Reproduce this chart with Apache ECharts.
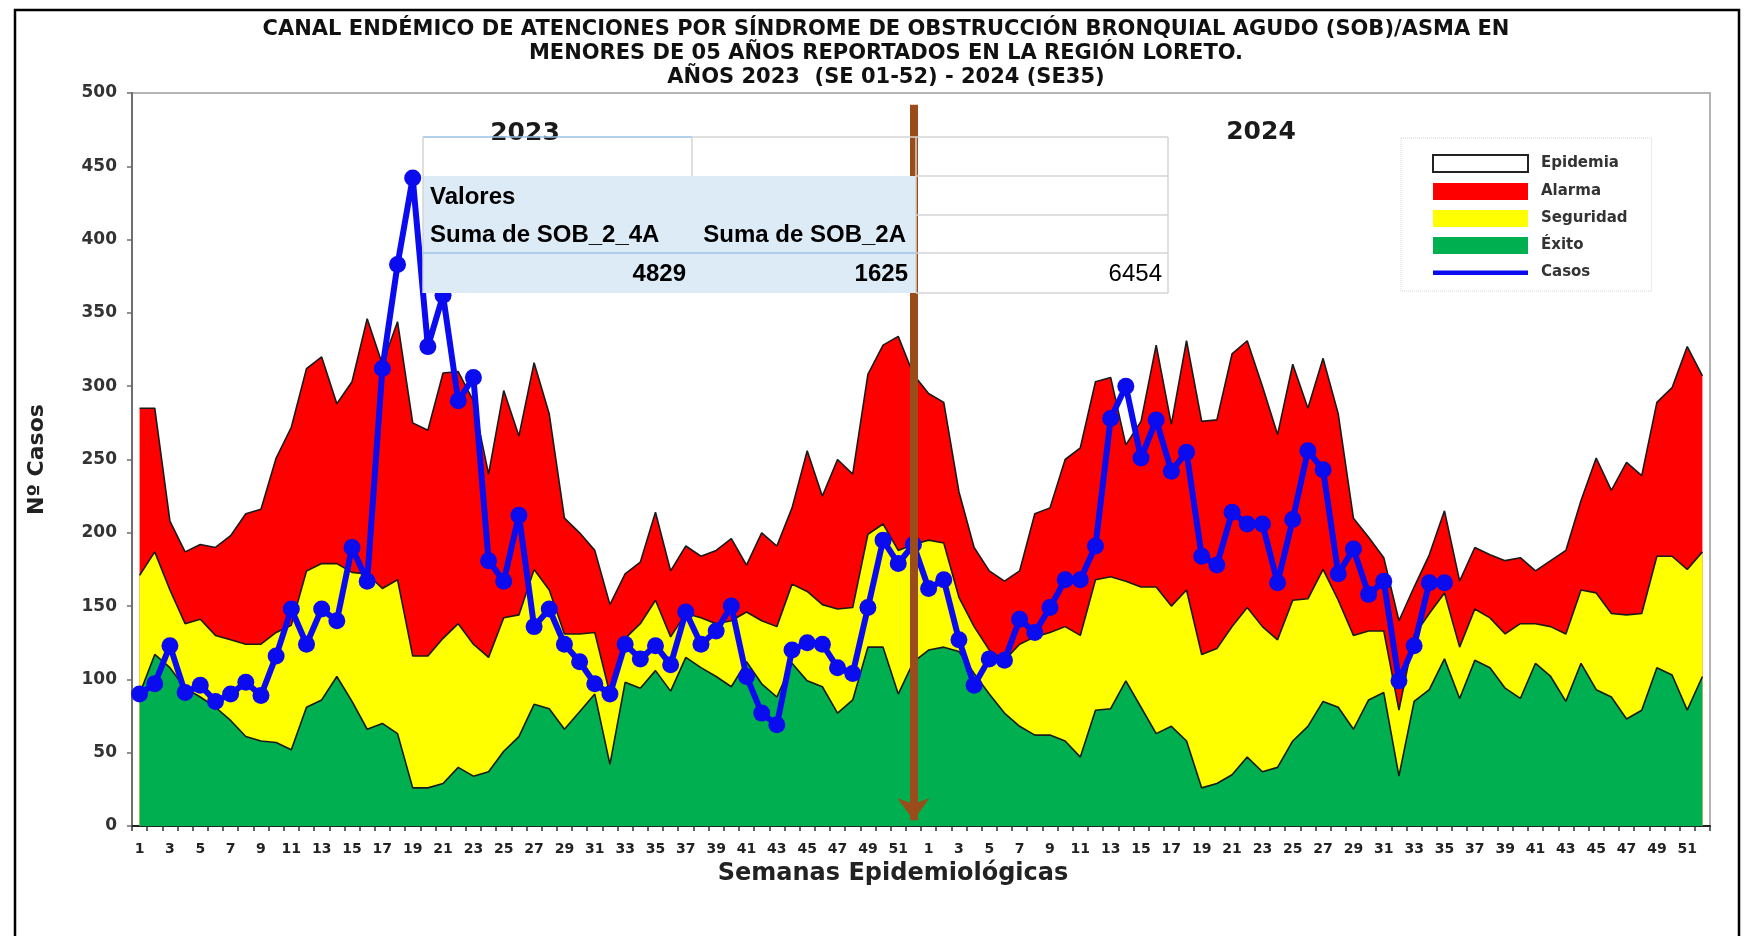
<!DOCTYPE html>
<html>
<head>
<meta charset="utf-8">
<script src="https://cdn.jsdelivr.net/npm/echarts@6/dist/echarts.min.js"></script>
<style>
  html, body { margin: 0; padding: 0; background: #fff; }
  #chart { width: 1757px; height: 936px; }
</style>
</head>
<body>
<div id="chart"></div>
<script>
// semanas epidemiológicas
const semanas = ['1', '2', '3', '4', '5', '6', '7', '8', '9', '10', '11', '12', '13',
  '14', '15', '16', '17', '18', '19', '20', '21', '22', '23', '24', '25', '26',
  '27', '28', '29', '30', '31', '32', '33', '34', '35', '36', '37', '38', '39',
  '40', '41', '42', '43', '44', '45', '46', '47', '48', '49', '50', '51', '52'];

// canal endémico 2023
const alarma2023 = [285, 285, 208, 187, 192, 190, 198, 213, 216, 251, 272, 312, 320,
  288, 303, 346, 315, 344, 275, 270, 309, 310, 290, 240, 297, 266,
  316, 281, 210, 200, 188, 151, 172, 180, 214, 174, 191, 184, 188,
  196, 178, 200, 191, 217, 256, 225, 250, 240, 308, 328, 334, 308];
const seguridad2023 = [171, 187, 161, 138, 141, 130, 127, 124, 124, 132, 137, 174, 179,
  179, 173, 172, 162, 168, 116, 116, 128, 138, 124, 115, 142, 144,
  175, 161, 131, 131, 132, 90, 128, 138, 154, 129, 145, 142, 138,
  140, 146, 140, 136, 165, 160, 151, 148, 149, 199, 206, 188, 192];
const exito2023 = [90, 117, 108, 94, 88, 81, 72, 61, 58, 57, 52, 81, 86,
  102, 85, 66, 70, 63, 26, 26, 29, 40, 34, 37, 51, 61,
  83, 80, 66, 78, 90, 42, 98, 94, 106, 92, 115, 108, 102,
  95, 112, 97, 88, 111, 99, 95, 77, 86, 122, 122, 90, 112];

// canal endémico 2024
const alarma2024 = [295, 289, 228, 190, 174, 167, 174, 213, 217, 250, 258, 303, 306,
  260, 276, 328, 274, 331, 276, 277, 322, 331, 300, 267, 315, 285,
  319, 281, 210, 197, 183, 140, 163, 185, 215, 167, 190, 185, 181,
  183, 174, 181, 188, 222, 251, 229, 248, 239, 289, 299, 327, 307];
const seguridad2024 = [195, 193, 156, 136, 120, 113, 124, 129, 132, 136, 130, 168, 170,
  167, 163, 163, 150, 161, 117, 121, 136, 149, 136, 127, 154, 155,
  175, 154, 130, 133, 133, 79, 130, 145, 159, 122, 148, 142, 131,
  138, 138, 136, 131, 161, 159, 145, 144, 145, 184, 184, 175, 187];
const exito2024 = [120, 122, 119, 104, 90, 77, 68, 62, 62, 58, 47, 79, 80,
  99, 81, 63, 68, 58, 26, 29, 35, 47, 37, 40, 58, 68,
  85, 81, 66, 86, 91, 34, 85, 93, 114, 87, 113, 108, 94,
  87, 111, 102, 85, 111, 93, 88, 73, 79, 108, 103, 79, 102];

// casos notificados
const casos2023 = [90, 97, 123, 91, 96, 85, 90, 98, 89, 116, 148, 124, 148,
  140, 190, 167, 312, 383, 442, 327, 362, 290, 306, 181, 167, 212,
  136, 148, 124, 112, 97, 90, 124, 114, 123, 110, 146, 124, 133,
  150, 102, 77, 69, 120, 125, 124, 108, 104, 149, 195, 179, 192];
const casos2024 = [162, 168, 127, 96, 114, 113, 141, 132, 149, 168, 168, 191, 278,
  300, 251, 277, 242, 255, 184, 178, 214, 206, 206, 166, 209, 256,
  243, 172, 189, 158, 167, 99, 123, 166, 166];

const yTicks = [0, 50, 100, 150, 200, 250, 300, 350, 400, 450, 500];

const categorias = semanas.map((s) => "2023-" + s).concat(semanas.map((s) => "2024-" + s));

const boldFont = "DejaVu Sans";
const chart = echarts.init(document.getElementById("chart"));

// línea de corte entre años (flecha)
const corte = "2023-52";

const areaSerie = (name, data, color) => ({
  name,
  type: "line",
  data,
  symbol: "none",
  z: 2,
  itemStyle: { color },
  lineStyle: { color: "#1a1a1a", width: 1.6 },
  areaStyle: { color, opacity: 1 },
});

const option = {
  animation: false,
  backgroundColor: "#fff",
  title: {
    text: "CANAL ENDÉMICO DE ATENCIONES POR SÍNDROME DE OBSTRUCCIÓN BRONQUIAL AGUDO (SOB)/ASMA EN\nMENORES DE 05 AÑOS REPORTADOS EN LA REGIÓN LORETO.\nAÑOS 2023  (SE 01-52) - 2024 (SE35)",
    left: 881,
    top: 13,
    textAlign: "center",
    textStyle: {
      fontFamily: boldFont,
      fontWeight: "bold",
      fontSize: 21,
      lineHeight: 24,
      color: "#111",
    },
  },
  grid: {
    left: 132,
    right: 47,
    top: 93,
    bottom: 110,
    show: true,
    borderColor: "#b4b4b4",
    borderWidth: 2,
    backgroundColor: "#fff",
  },
  legend: {
    orient: "vertical",
    left: 1401,
    top: 138,
    padding: [16, 24, 10, 31],
    itemWidth: 95,
    itemHeight: 17,
    itemGap: 10,
    backgroundColor: "#fff",
    borderColor: "#d6d6d6",
    borderWidth: 1,
    borderType: "dotted",
    selectedMode: false,
    textStyle: {
      fontFamily: boldFont,
      fontWeight: "bold",
      fontSize: 15,
      color: "#333",
      padding: [0, 0, 0, 8],
    },
    data: [
      { name: "Epidemia", icon: "rect", itemStyle: { color: "#fff", borderColor: "#222", borderWidth: 2 } },
      { name: "Alarma", icon: "rect", itemStyle: { color: "#FF0000", borderWidth: 0 } },
      { name: "Seguridad", icon: "rect", itemStyle: { color: "#FFFF00", borderWidth: 0 } },
      { name: "Éxito", icon: "rect", itemStyle: { color: "#00B050", borderWidth: 0 } },
      {
        name: "Casos",
        icon: "path://M0,0 L0.01,0 L0.01,0.01 Z M0,6.5 L95,6.5 L95,11 L0,11 Z M94.99,17 L95,16.99 L95,17 Z",
        itemStyle: { color: "#0b0bef", borderWidth: 0 },
      },
    ],
  },
  xAxis: {
    type: "category",
    data: categorias,
    boundaryGap: true,
    name: "Semanas Epidemiológicas",
    nameLocation: "middle",
    nameGap: 36,
    nameTextStyle: {
      fontFamily: boldFont,
      fontWeight: "bold",
      fontSize: 24,
      color: "#222",
      padding: [0, 56, 0, 0],
    },
    axisLine: { lineStyle: { color: "#222", width: 2 } },
    axisTick: { show: true, interval: 0, length: 5, lineStyle: { color: "#333", width: 1.5 } },
    axisLabel: {
      interval: 1,
      margin: 16,
      fontFamily: boldFont,
      fontWeight: "bold",
      fontSize: 14,
      color: "#222",
      formatter: (v) => v.split("-")[1],
    },
  },
  yAxis: {
    type: "value",
    min: yTicks[0],
    max: yTicks[yTicks.length - 1],
    interval: 50,
    name: "Nº Casos",
    nameLocation: "middle",
    nameGap: 84,
    nameTextStyle: {
      fontFamily: boldFont,
      fontWeight: "bold",
      fontSize: 22,
      color: "#222",
    },
    splitLine: { show: false },
    axisLine: { show: true, lineStyle: { color: "#6e6e6e", width: 2 } },
    axisTick: { show: true, length: 5, lineStyle: { color: "#6e6e6e", width: 1.5 } },
    axisLabel: {
      margin: 15,
      fontFamily: boldFont,
      fontWeight: "bold",
      fontSize: 17,
      color: "#333",
    },
  },
  series: [
    { name: "Epidemia", type: "line", data: [], symbol: "none" },
    areaSerie("Alarma", alarma2023.concat(alarma2024), "#FF0000"),
    areaSerie("Seguridad", seguridad2023.concat(seguridad2024), "#FFFF00"),
    areaSerie("Éxito", exito2023.concat(exito2024), "#00B050"),
    {
      name: "Casos",
      type: "line",
      z: 3,
      data: casos2023.concat(casos2024),
      symbol: "circle",
      symbolSize: 17,
      showAllSymbol: true,
      itemStyle: { color: "#0b0bef" },
      lineStyle: { color: "#0b0bef", width: 6 },
      markLine: {
        silent: true,
        symbol: ["none", "arrow"],
        symbolSize: [24, 22],
        label: { show: false },
        lineStyle: { color: "#9a4d1a", width: 8, type: "solid" },
        data: [[{ coord: [corte, 492] }, { coord: [corte, 4] }]],
      },
    },
  ],
  graphic: [
    // marco exterior
    {
      type: "rect",
      z: 200,
      shape: { x: 15, y: 10, width: 1724, height: 960 },
      style: { fill: "none", stroke: "#000", lineWidth: 2.5 },
    },
    {
      type: "text",
      z: 50,
      x: 525,
      y: 133,
      style: {
        text: "2023",
        font: "bold 25px 'DejaVu Sans'",
        fill: "#1a1a1a",
        align: "center",
        verticalAlign: "middle",
      },
    },
    {
      type: "text",
      z: 50,
      x: 1261,
      y: 132,
      style: {
        text: "2024",
        font: "bold 25px 'DejaVu Sans'",
        fill: "#1a1a1a",
        align: "center",
        verticalAlign: "middle",
      },
    },
    // tabla dinámica pegada encima
    {
      type: "group",
      z: 100,
      children: [
        { type: "rect", z: 100, shape: { x: 423, y: 176, width: 493, height: 117 }, style: { fill: "#DDEBF7" } },
        { type: "line", z: 101, shape: { x1: 423, y1: 137, x2: 692, y2: 137 }, style: { stroke: "#9BC2E6", lineWidth: 1.5 } },
        { type: "line", z: 101, shape: { x1: 692, y1: 137, x2: 1168, y2: 137 }, style: { stroke: "#d4d4d4", lineWidth: 1.5 } },
        { type: "line", z: 101, shape: { x1: 423, y1: 137, x2: 423, y2: 293 }, style: { stroke: "#d4d4d4", lineWidth: 1.5 } },
        { type: "line", z: 101, shape: { x1: 692, y1: 137, x2: 692, y2: 176 }, style: { stroke: "#d4d4d4", lineWidth: 1.5 } },
        { type: "line", z: 101, shape: { x1: 916, y1: 137, x2: 916, y2: 293 }, style: { stroke: "#d4d4d4", lineWidth: 1.5 } },
        { type: "line", z: 101, shape: { x1: 1168, y1: 137, x2: 1168, y2: 293 }, style: { stroke: "#d4d4d4", lineWidth: 1.5 } },
        { type: "line", z: 101, shape: { x1: 916, y1: 176, x2: 1168, y2: 176 }, style: { stroke: "#d4d4d4", lineWidth: 1.5 } },
        { type: "line", z: 101, shape: { x1: 916, y1: 215, x2: 1168, y2: 215 }, style: { stroke: "#d4d4d4", lineWidth: 1.5 } },
        { type: "line", z: 101, shape: { x1: 916, y1: 253, x2: 1168, y2: 253 }, style: { stroke: "#d4d4d4", lineWidth: 1.5 } },
        { type: "line", z: 101, shape: { x1: 916, y1: 293, x2: 1168, y2: 293 }, style: { stroke: "#d4d4d4", lineWidth: 1.5 } },
        { type: "line", z: 101, shape: { x1: 423, y1: 253, x2: 916, y2: 253 }, style: { stroke: "#9BC2E6", lineWidth: 1.5 } },
        { type: "text", z: 102, x: 430, y: 197, style: { text: "Valores", font: "bold 24px 'Liberation Sans'", fill: "#000", verticalAlign: "middle" } },
        { type: "text", z: 102, x: 430, y: 235, style: { text: "Suma de SOB_2_4A", font: "bold 24px 'Liberation Sans'", fill: "#000", verticalAlign: "middle" } },
        { type: "text", z: 102, x: 906, y: 235, style: { text: "Suma de SOB_2A", font: "bold 24px 'Liberation Sans'", fill: "#000", align: "right", verticalAlign: "middle" } },
        { type: "text", z: 102, x: 686, y: 274, style: { text: "4829", font: "bold 24px 'Liberation Sans'", fill: "#000", align: "right", verticalAlign: "middle" } },
        { type: "text", z: 102, x: 908, y: 274, style: { text: "1625", font: "bold 24px 'Liberation Sans'", fill: "#000", align: "right", verticalAlign: "middle" } },
        { type: "text", z: 102, x: 1162, y: 274, style: { text: "6454", font: "24px 'Liberation Sans'", fill: "#000", align: "right", verticalAlign: "middle" } },
      ],
    },
  ],
};

chart.setOption(option);
</script>
</body>
</html>
